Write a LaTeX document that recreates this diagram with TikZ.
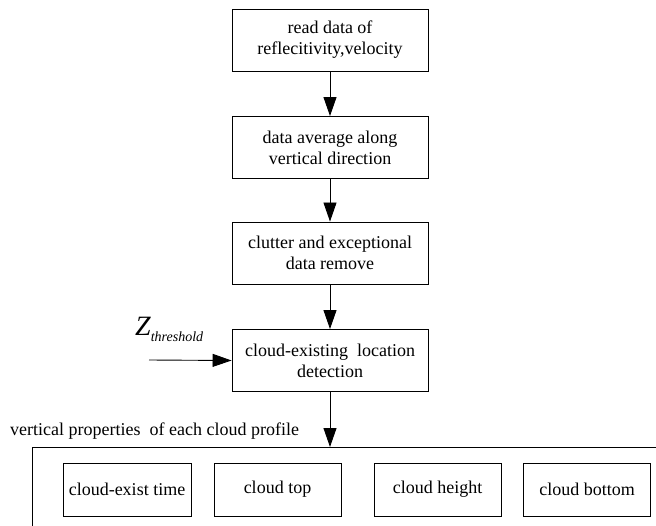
\documentclass[tikz,border=0pt]{standalone}
\usepackage{fontspec}
\setmainfont{Liberation Serif}
\usetikzlibrary{arrows.meta}
\begin{document}
\begin{tikzpicture}[x=1bp,y=-1bp,
  every node/.style={font=\fontsize{18bp}{21bp}\selectfont},
  procbox/.style={draw,line width=0.9bp,minimum width=196bp,minimum height=62bp,align=center,inner sep=0pt},
  propbox/.style={draw,line width=0.9bp,minimum width=127bp,minimum height=53bp,inner sep=0pt},
  arr/.style={line width=0.9bp,-{Triangle[length=19bp,width=13bp]}}]
\useasboundingbox (0,0) rectangle (656,526);
\node[procbox] (b1) at (330,40) {read data of\\reflecitivity,velocity};
\node[procbox] (b2) at (330,147.5) {data average along\\vertical direction};
\node[procbox] (b3) at (330,253) {clutter and exceptional\\data remove};
\node[procbox] (b4) at (330,360.5) {cloud-existing\ \ location\\detection};
\draw[arr] (b1) -- (b2);
\draw[arr] (b2) -- (b3);
\draw[arr] (b3) -- (b4);
\node[anchor=base west,inner sep=0pt] (z) at (135,335) {{\fontsize{28bp}{28bp}\selectfont\itshape Z}\raisebox{-6bp}{\fontsize{14bp}{14bp}\selectfont\itshape threshold}};
\coordinate (zin) at (149,360);
\draw[arr] (zin) -- (b4.west);
\node[anchor=base west,inner sep=0pt] (lbl) at (10,435) {vertical properties\ \ of each cloud profile};
\coordinate (ftop) at (330,447);
\draw[arr] (b4) -- (ftop);
\draw[line width=0.9bp] (32,527) -- (32,447) -- (657,447);
\node[propbox,minimum width=128bp] (p1) at (127,489.5) {cloud-exist time};
\node[propbox] (p2) at (277.5,489.5) {cloud top};
\node[propbox] (p3) at (437.5,489.5) {cloud height};
\node[propbox] (p4) at (587,489.5) {cloud bottom};
\end{tikzpicture}
\end{document}
